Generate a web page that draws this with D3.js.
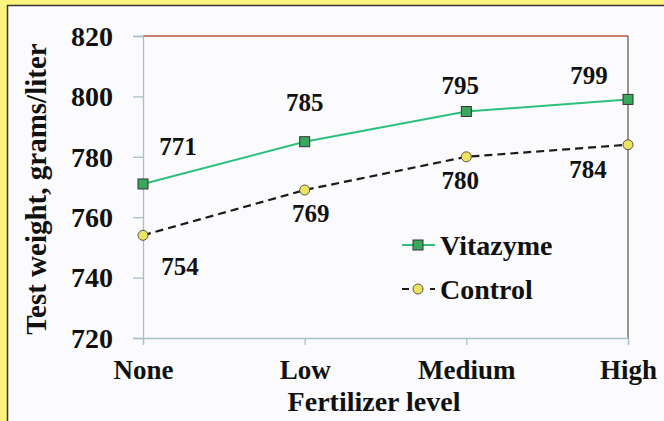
<!DOCTYPE html>
<html><head><meta charset="utf-8">
<script src="https://cdn.jsdelivr.net/npm/d3@7"></script>
<style>body{margin:0;background:#fdf480;}svg{display:block;}</style>
</head><body>
<svg id="c" width="664" height="421"></svg>
<script>
const categories = ["None", "Low", "Medium", "High"];
const vitazyme = [771, 785, 795, 799];
const control = [754, 769, 780, 784];
const yTicks = [720, 740, 760, 780, 800, 820];
const seriesNames = ["Vitazyme", "Control"];

const svg = d3.select("#c");
const font = "'Liberation Serif', 'Times New Roman', serif";
svg.append("rect").attr("x", 7.5).attr("y", 5.5).attr("width", 670).attr("height", 430)
  .attr("fill", "#fbfbfd").attr("stroke", "#333").attr("stroke-width", 1.5);

const L = 143, R = 628, T = 36, B = 338;
const x = d3.scalePoint().domain(categories).range([L, R]);
const y = d3.scaleLinear().domain([720, 820]).range([B, T]);

svg.append("line").attr("x1", L).attr("x2", R).attr("y1", T).attr("y2", T).attr("stroke", "#b8553f").attr("stroke-width", 1.3);
svg.append("line").attr("x1", R).attr("x2", R).attr("y1", T).attr("y2", B).attr("stroke", "#6a5a56").attr("stroke-width", 1.3);

const yAxis = svg.append("g").attr("transform", `translate(${L},0)`)
  .call(d3.axisLeft(y).tickValues(yTicks).tickSize(10).tickPadding(20));
const xAxis = svg.append("g").attr("transform", `translate(0,${B})`)
  .call(d3.axisBottom(x).tickSize(7).tickPadding(15));
[yAxis, xAxis].forEach(a => {
  a.select(".domain").attr("stroke", "#a9c0cc").attr("stroke-width", 1.3);
  a.selectAll(".tick line").attr("stroke", "#a9c0cc").attr("stroke-width", 1.3);
  a.selectAll("text").attr("font-family", font).attr("font-weight", "bold")
    .attr("font-size", 28).attr("fill", "#111");
});
yAxis.selectAll("text").attr("dy", "0.33em");
xAxis.selectAll("text").attr("dy", "0.71em").attr("font-size", 27);

svg.append("text").attr("transform", `translate(46,189) rotate(-90)`)
  .attr("text-anchor", "middle").attr("font-family", font).attr("font-weight", "bold")
  .attr("font-size", 29).attr("fill", "#111").text("Test weight, grams/liter");
svg.append("text").attr("x", 374).attr("y", 411).attr("text-anchor", "middle")
  .attr("font-family", font).attr("font-weight", "bold").attr("font-size", 28).attr("fill", "#111")
  .text("Fertilizer level");

const line = d3.line().x((d, i) => x(categories[i])).y(d => y(d));
svg.append("path").datum(vitazyme).attr("d", line).attr("fill", "none")
  .attr("stroke", "#2cc07c").attr("stroke-width", 2);
svg.append("path").datum(control).attr("d", line).attr("fill", "none")
  .attr("stroke", "#1a1a1a").attr("stroke-width", 2.2).attr("stroke-dasharray", "8,5");

svg.selectAll(".vm").data(vitazyme).join("rect")
  .attr("x", (d, i) => x(categories[i]) - 5).attr("y", d => y(d) - 5)
  .attr("width", 10).attr("height", 10).attr("fill", "#3aa85c").attr("stroke", "#333").attr("stroke-width", 1);
svg.selectAll(".cm").data(control).join("circle")
  .attr("cx", (d, i) => x(categories[i])).attr("cy", d => y(d)).attr("r", 5)
  .attr("fill", "#ede35e").attr("stroke", "#555").attr("stroke-width", 1);

const vOff = [[35, -38], [0, -39], [-6, -26], [-39, -24]];
const cOff = [[37, 31], [6, 23], [-6, 23], [-40, 25]];
const lab = (vals, offs) => svg.append("g").selectAll("text").data(vals).join("text")
  .attr("x", (d, i) => x(categories[i]) + offs[i][0]).attr("y", (d, i) => y(d) + offs[i][1])
  .attr("text-anchor", "middle").attr("dy", "0.35em")
  .attr("font-family", font).attr("font-weight", "bold").attr("font-size", 25).attr("fill", "#111")
  .text(d => d);
lab(vitazyme, vOff);
lab(control, cOff);

const lg = svg.append("g");
lg.append("line").attr("x1", 402).attr("x2", 435).attr("y1", 245).attr("y2", 245).attr("stroke", "#2cc07c").attr("stroke-width", 2);
lg.append("rect").attr("x", 413).attr("y", 240).attr("width", 10).attr("height", 10).attr("fill", "#3aa85c").attr("stroke", "#333");
lg.append("line").attr("x1", 402).attr("x2", 435).attr("y1", 289).attr("y2", 289).attr("stroke", "#1a1a1a").attr("stroke-width", 2.2).attr("stroke-dasharray", "7,7");
lg.append("circle").attr("cx", 418).attr("cy", 289).attr("r", 5).attr("fill", "#ede35e").attr("stroke", "#555");
lg.selectAll("text").data(seriesNames).join("text")
  .attr("x", 440).attr("y", (d, i) => 245 + i * 44).attr("dy", "0.35em")
  .attr("font-family", font).attr("font-weight", "bold").attr("font-size", 28).attr("fill", "#111")
  .text(d => d);
</script>
</body></html>
